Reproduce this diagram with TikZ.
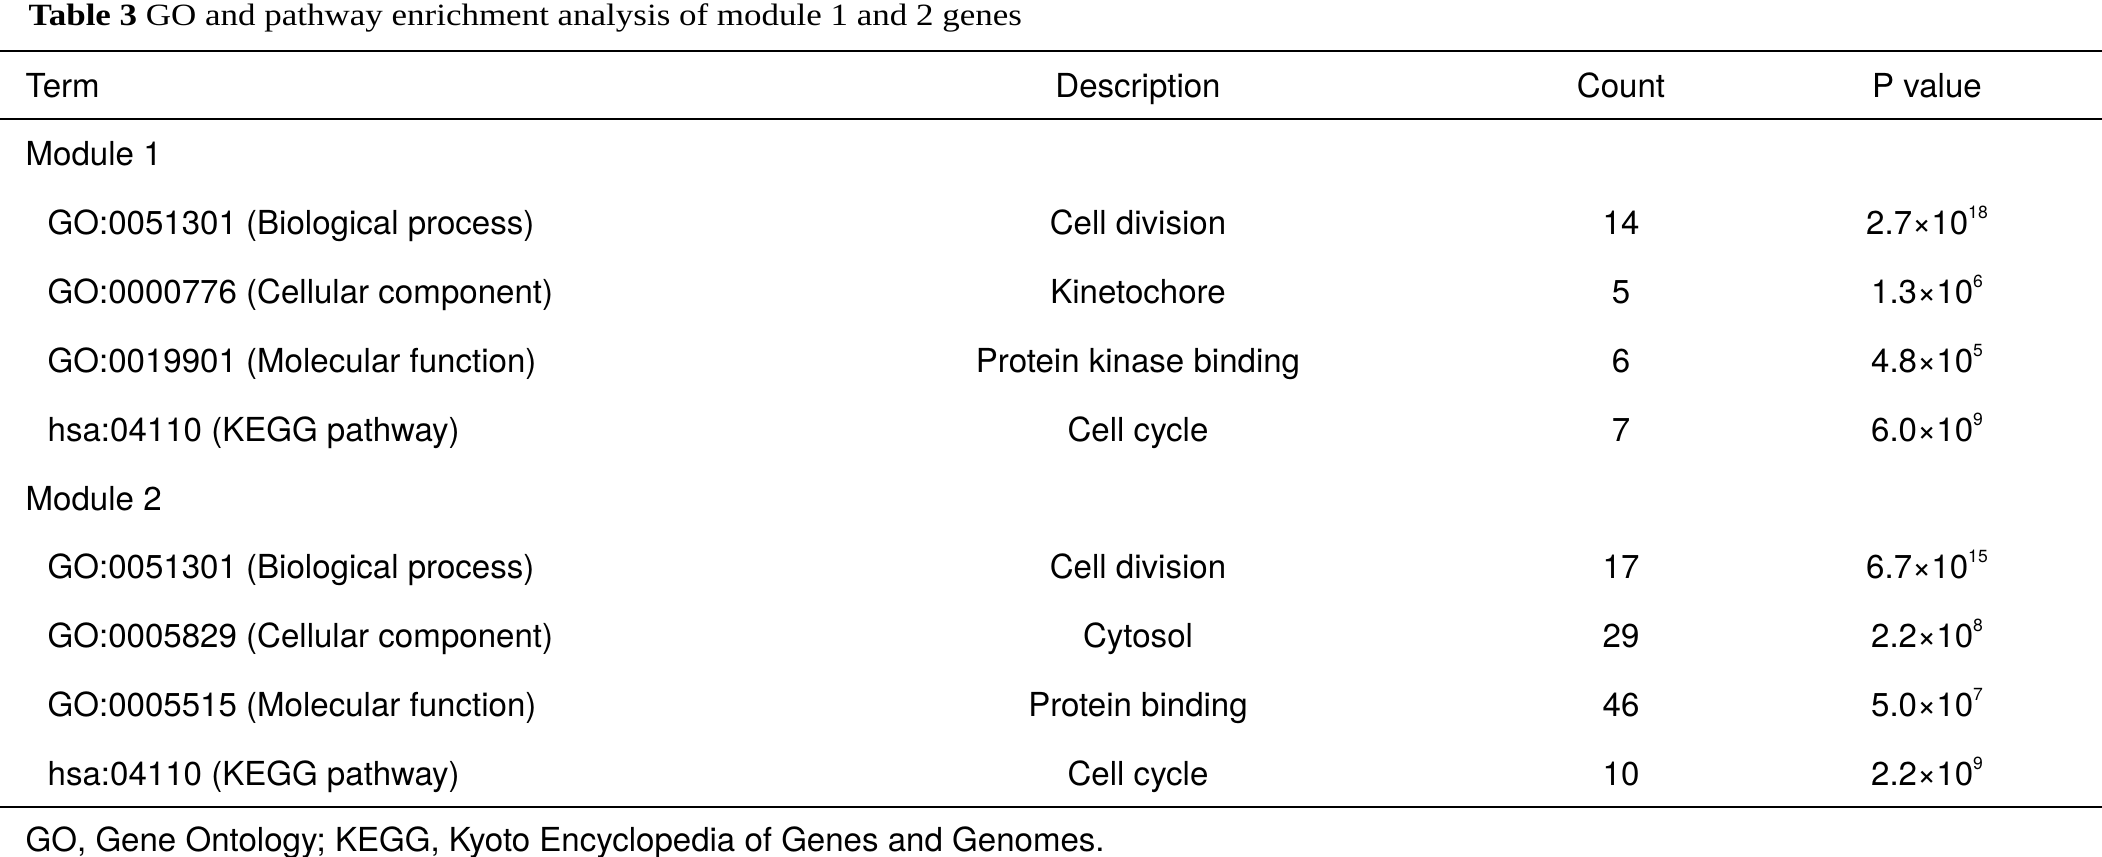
\documentclass[tikz,border=0pt]{standalone}
\usepackage{fontspec}
\setmainfont{TeX Gyre Heros}
\newfontfamily\captionfont[FakeStretch=1.13]{Liberation Serif}
\newcommand{\pexp}[1]{\raisebox{4.6pt}{\fontsize{5}{5}\selectfont #1}}

\begin{document}
\begin{tikzpicture}[x=0.01cm, y=-0.01cm,
    every node/.style={inner sep=0pt, font=\fontsize{9.4}{11}\selectfont},
    rowhead/.style={anchor=base west},
    cell/.style={anchor=base}]
  \useasboundingbox (0,0) rectangle (2102,856);

  % caption and rules
  \node[rowhead, font=\captionfont\fontsize{8.8}{10}\selectfont] (caption) at (28,25)
    {\textbf{Table 3} GO and pathway enrichment analysis of module 1 and 2 genes};
  \draw[line width=0.6pt] (0,51) -- (2102,51);
  \draw[line width=0.5pt] (0,119) -- (2102,119);
  \draw[line width=0.6pt] (0,807) -- (2102,807);

  % header
  \node[rowhead] (head-term) at (25,97) {Term};
  \node[cell] (head-desc) at (1138,97) {Description};
  \node[cell] (head-count) at (1621,97) {Count};
  \node[cell] (head-pval) at (1927,97) {P value};

  % modules
  \node[rowhead] (module-1) at (25,{97+68.85*1}) {Module 1};
  \node[rowhead] (module-2) at (25,{97+68.85*6}) {Module 2};

  % rows
  \foreach \k/\term/\desc/\cnt/\pv in {
      2/GO:0051301 (Biological process)/Cell division/14/2.7×10\pexp{18},
      3/GO:0000776 (Cellular component)/Kinetochore/5/1.3×10\pexp{6},
      4/GO:0019901 (Molecular function)/Protein kinase binding/6/4.8×10\pexp{5},
      5/hsa:04110 (KEGG pathway)/Cell cycle/7/6.0×10\pexp{9},
      7/GO:0051301 (Biological process)/Cell division/17/6.7×10\pexp{15},
      8/GO:0005829 (Cellular component)/Cytosol/29/2.2×10\pexp{8},
      9/GO:0005515 (Molecular function)/Protein binding/46/5.0×10\pexp{7},
      10/hsa:04110 (KEGG pathway)/Cell cycle/10/2.2×10\pexp{9}}
  {
    \node[rowhead] (term-\k) at (47,{97+68.85*\k}) {\term};
    \node[cell] (desc-\k) at (1138,{97+68.85*\k}) {\desc};
    \node[cell] (count-\k) at (1621,{97+68.85*\k}) {\cnt};
    \node[cell] (pval-\k) at (1927,{97+68.85*\k}) {\pv};
  }

  % footnote
  \node[rowhead] (footnote) at (25,851) {GO, Gene Ontology; KEGG, Kyoto Encyclopedia of Genes and Genomes.};
\end{tikzpicture}
\end{document}
